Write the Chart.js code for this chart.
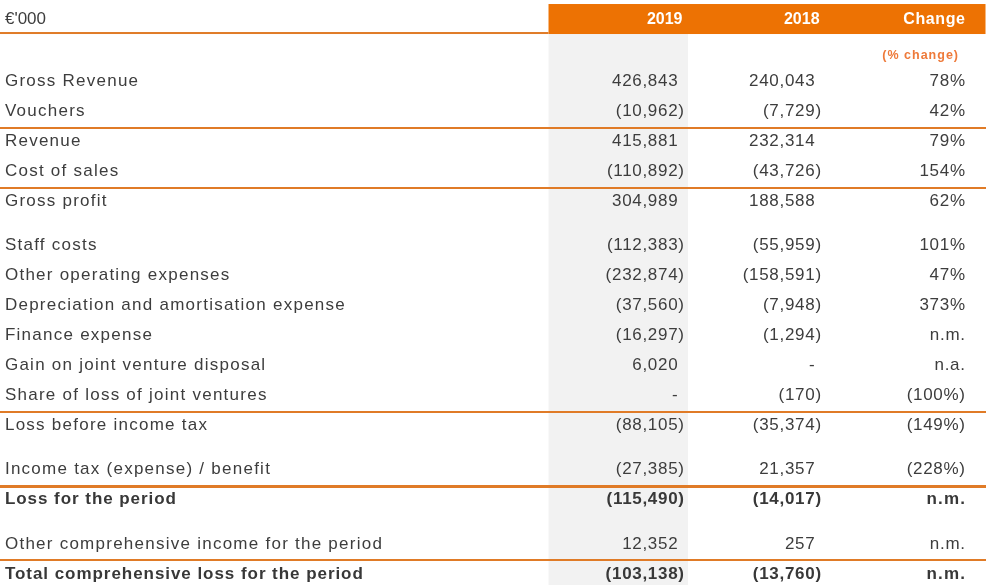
<!DOCTYPE html>
<html>
<head>
<meta charset="utf-8">
<script src="https://cdn.jsdelivr.net/npm/chart.js@4"></script>
<style>
  html, body { margin: 0; padding: 0; background: #ffffff; }
  #wrap { width: 986px; height: 585px; position: relative; }
</style>
</head>
<body>
<div id="wrap"><canvas id="c"></canvas></div>
<script>
// ---------- DATA ----------
const unitLabel = "€'000";
const columnHeaders = ['2019', '2018', 'Change'];
const changeSubHeader = '(% change)';
const rowLabels = [
  'Gross Revenue',
  'Vouchers',
  'Revenue',
  'Cost of sales',
  'Gross profit',
  'Staff costs',
  'Other operating expenses',
  'Depreciation and amortisation expense',
  'Finance expense',
  'Gain on joint venture disposal',
  'Share of loss of joint ventures',
  'Loss before income tax',
  'Income tax (expense) / benefit',
  'Loss for the period',
  'Other comprehensive income for the period',
  'Total comprehensive loss for the period'
];
const values2019 = [426843, -10962, 415881, -110892, 304989, -112383, -232874, -37560, -16297, 6020, null, -88105, -27385, -115490, 12352, -103138];
const values2018 = [240043, -7729, 232314, -43726, 188588, -55959, -158591, -7948, -1294, null, -170, -35374, 21357, -14017, 257, -13760];
const changePct  = [78, 42, 79, 154, 62, 101, 47, 373, 'n.m.', 'n.a.', -100, -149, -228, 'n.m.', 'n.m.', 'n.m.'];
const boldRows = ['Loss for the period', 'Total comprehensive loss for the period'];
const spacerBefore = ['Staff costs', 'Income tax (expense) / benefit', 'Other comprehensive income for the period'];
const ruleAbove = ['Revenue', 'Gross profit', 'Loss before income tax', 'Loss for the period', 'Total comprehensive loss for the period'];
const thickRuleAbove = ['Loss for the period'];

// ---------- LAYOUT (scale units) ----------
const X = { label: 0.5, c2019: 69.37, c2018: 83.27, change: 97.87, sub: 97.16,
            shadeL: 55.63, shadeR: 69.78, headR: 99.95 };
const Y = { min: -2.667, max: 16.833, headTop: -2.533, headBot: -1.533, headText: -2.07, sub: -0.87, spacer: 0.47, rule: 0.4 };

const FONT = '"Liberation Sans", Arial, sans-serif';
const TEXT = '#3D3D3D';
const ORANGE = '#ED7203';
const RULE = '#E07B27';

// row positions
const rowY = [];
let extra = 0;
rowLabels.forEach((l, i) => { if (spacerBefore.includes(l)) extra += Y.spacer; rowY.push(i + extra); });

function fmtNum(v) {
  if (v === null) return '-';
  const s = Math.abs(v).toLocaleString('en-US');
  return v < 0 ? '(' + s + ')' : s;
}
function fmtPct(v) {
  if (typeof v === 'string') return v;
  return v < 0 ? '(' + Math.abs(v) + '%)' : v + '%';
}

const tablePlugin = {
  id: 'table',
  beforeDatasetsDraw(chart) {
    const ctx = chart.ctx, xs = chart.scales.x, ys = chart.scales.y;
    ctx.save();
    // shaded 2019 column
    ctx.fillStyle = '#F2F2F2';
    ctx.fillRect(xs.getPixelForValue(X.shadeL), ys.getPixelForValue(Y.headBot),
      xs.getPixelForValue(X.shadeR) - xs.getPixelForValue(X.shadeL),
      ys.getPixelForValue(Y.max) - ys.getPixelForValue(Y.headBot));
    // header bar
    ctx.fillStyle = ORANGE;
    ctx.fillRect(xs.getPixelForValue(X.shadeL), ys.getPixelForValue(Y.headTop),
      xs.getPixelForValue(X.headR) - xs.getPixelForValue(X.shadeL),
      ys.getPixelForValue(Y.headBot) - ys.getPixelForValue(Y.headTop));
    // left header rule
    ctx.fillStyle = RULE;
    const hb = ys.getPixelForValue(Y.headBot);
    ctx.fillRect(xs.getPixelForValue(0), hb - 2, xs.getPixelForValue(X.shadeL) - xs.getPixelForValue(0), 2);
    // row rules
    rowLabels.forEach((l, i) => {
      if (!ruleAbove.includes(l)) return;
      const y = ys.getPixelForValue(rowY[i] - Y.rule);
      const th = thickRuleAbove.includes(l) ? 3 : 2;
      ctx.fillRect(xs.getPixelForValue(0), Math.round(y - th / 2), xs.getPixelForValue(100) - xs.getPixelForValue(0), th);
    });
    ctx.restore();
  },
  afterDatasetsDraw(chart) {
    const ctx = chart.ctx, xs = chart.scales.x, ys = chart.scales.y;
    ctx.save();
    // header texts
    ctx.textBaseline = 'alphabetic';
    ctx.fillStyle = TEXT;
    ctx.font = '17px ' + FONT;
    ctx.letterSpacing = '0px';
    ctx.textAlign = 'left';
    ctx.fillText(unitLabel, xs.getPixelForValue(X.label), ys.getPixelForValue(Y.headText) + 6);
    ctx.fillStyle = '#FFFFFF';
    ctx.font = 'bold 16px ' + FONT;
    ctx.textAlign = 'right';
    const hx = [X.c2019 - 0.15, X.c2018 - 0.15, X.change];
    columnHeaders.forEach((h, k) => {
      ctx.letterSpacing = k === 2 ? '0.6px' : '0px';
      ctx.fillText(h, xs.getPixelForValue(hx[k]) + (k === 2 ? 0.6 : 0), ys.getPixelForValue(Y.headText) + 6);
    });
    ctx.fillStyle = '#EE7A3A';
    ctx.font = 'bold 12.5px ' + FONT;
    ctx.letterSpacing = '1px';
    ctx.fillText(changeSubHeader, xs.getPixelForValue(X.sub) + 1, ys.getPixelForValue(Y.sub) + 4.6);

    // cells from dataset elements
    chart.data.datasets.forEach((ds, d) => {
      const meta = chart.getDatasetMeta(d);
      meta.data.forEach((el, i) => {
        const bold = boldRows.includes(rowLabels[i]);
        ctx.fillStyle = bold ? '#383838' : TEXT;
        ctx.font = (bold ? 'bold ' : '') + '17px ' + FONT;
        const base = el.y + 6.2;
        if (ds.kind === 'label') {
          ctx.letterSpacing = bold ? '0.95px' : '1.25px';
          ctx.textAlign = 'left';
          ctx.fillText(rowLabels[i], el.x, base);
        } else if (ds.kind === 'num') {
          ctx.letterSpacing = '0.7px';
          ctx.textAlign = 'right';
          const v = ds.raw[i];
          const t = fmtNum(v);
          let x = el.x + 0.7;
          if (!(v !== null && v < 0)) x -= ctx.measureText(')').width;
          ctx.fillText(t, x, base);
        } else {
          ctx.letterSpacing = bold ? '1.2px' : '0.7px';
          ctx.textAlign = 'right';
          const t = fmtPct(ds.raw[i]);
          ctx.fillText(t, el.x + (bold ? 1.2 : 0.7), base);
        }
      });
    });
    ctx.restore();
  }
};

const mk = (xv) => rowY.map(y => ({ x: xv, y }));

new Chart(document.getElementById('c'), {
  type: 'scatter',
  data: {
    datasets: [
      { kind: 'label', raw: rowLabels, data: mk(X.label) },
      { kind: 'num', raw: values2019, data: mk(X.c2019) },
      { kind: 'num', raw: values2018, data: mk(X.c2018) },
      { kind: 'pct', raw: changePct, data: mk(X.change) }
    ]
  },
  options: {
    responsive: true,
    maintainAspectRatio: false,
    animation: false,
    events: [],
    layout: { padding: 0 },
    elements: { point: { radius: 0, hoverRadius: 0 } },
    plugins: { legend: { display: false }, tooltip: { enabled: false } },
    scales: {
      x: { type: 'linear', display: false, min: 0, max: 100 },
      y: { type: 'linear', display: false, reverse: true, min: Y.min, max: Y.max }
    }
  },
  plugins: [tablePlugin]
});
</script>
</body>
</html>
